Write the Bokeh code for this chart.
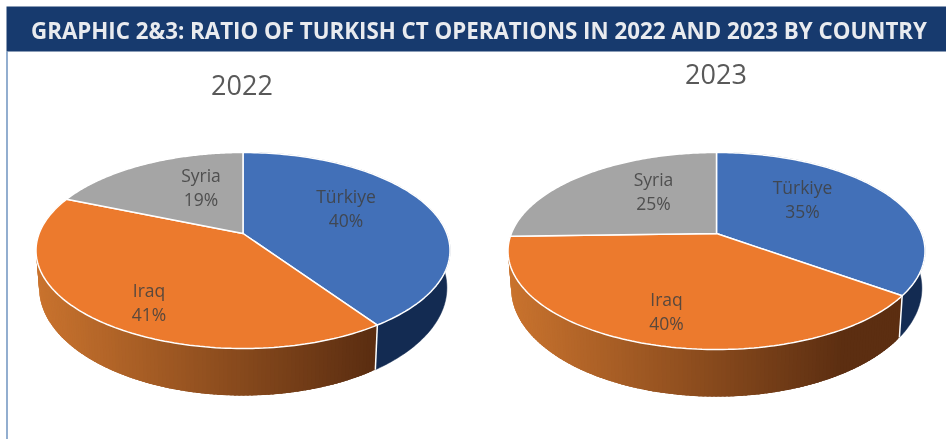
import numpy as np
from bokeh.plotting import figure
from bokeh.embed import file_html
from bokeh.resources import INLINE
from bokeh.core.properties import value

# ---- data ----
title_text = "GRAPHIC 2&3: RATIO OF TURKISH CT OPERATIONS IN 2022 AND 2023 BY COUNTRY"
categories = ["Türkiye", "Iraq", "Syria"]
years = ["2022", "2023"]
values_2022 = [40.45, 40.85, 18.70]
values_2023 = [34.95, 39.60, 25.45]

# ---- styles and layout (page pixels) ----
top_colors = ["#4270B8", "#EC7A2D", "#A5A5A5"]
WHITE = "#FFFFFF"
side_blue = "#132B52"
grad_left = np.array([0xC9, 0x73, 0x2E])
grad_right = np.array([0x5C, 0x2E, 0x11])
layouts = [
    dict(cx=242.5, cy=233.0, up=81.0, down=115.0, half_w=207.0, title_x=241.5, title_y=84,
         labels=[(103, -38), (-94, 56), (-42, -59)]),
    dict(cx=716.0, cy=233.0, up=81.0, down=116.0, half_w=208.5, title_x=715.5, title_y=73.5,
         labels=[(86, -47), (-50, 65), (-63, -55)]),
]
SIDE_SX, SIDE_SY, SIDE_D = 0.985, 1.10, 35.5

p = figure(width=946, height=439, x_range=(0, 946), y_range=(439, 0),
           output_backend="svg", toolbar_location=None, min_border=0,
           x_axis_type=None, y_axis_type=None, outline_line_color=None,
           background_fill_color="white", border_fill_color="white",
           styles={"position": "fixed", "left": "0px", "top": "0px"})
p.grid.visible = False

# header and the thin rule on the left
p.quad(left=[6], right=[946], top=[6], bottom=[51], fill_color="#173A6E", line_color=None)
p.segment(x0=[6.5], y0=[51], x1=[6.5], y1=[439], line_color="#4A78B0", line_width=1.2)
p.text(x=[478.5], y=[29.5], text=[title_text], text_color="#E9EBEF",
       text_font=value("Open Sans"), text_font_style="bold", text_font_size="22.3px",
       text_align="center", text_baseline="middle")


def rim(deg, g):
    """Screen offsets from the apex of a rim point at clockwise angle deg (tilted disc)."""
    k = (g["down"] - g["up"]) / (g["down"] + g["up"])
    B = g["up"] * (1 + k)
    A = g["half_w"] * np.sqrt(1 - k * k)
    t = np.radians(deg)
    u, v = np.sin(t), np.cos(t)
    den = 1 + k * v
    return A * u / den, -B * v / den


def wall(a0, a1, g):
    x0, y0 = rim(a0, g)
    x1, y1 = rim(a1, g)
    cx, cy = g["cx"], g["cy"]
    return ([cx + x0, cx + x1, cx + x1 * SIDE_SX, cx + x0 * SIDE_SX],
            [cy + y0, cy + y1, cy + y1 * SIDE_SY + SIDE_D, cy + y0 * SIDE_SY + SIDE_D])


def pie(vals, g, year):
    vals = np.array(vals, dtype=float)
    edges = np.concatenate([[0.0], np.cumsum(vals) / vals.sum() * 360.0])
    cx, cy = g["cx"], g["cy"]
    left_x, width = cx - g["half_w"], 2 * g["half_w"]

    # first slice's wall: one flat dark polygon
    a = np.linspace(edges[0], edges[1], 200)
    rx, ry = rim(a, g)
    p.patch(np.concatenate([cx + rx, (cx + rx * SIDE_SX)[::-1]]),
            np.concatenate([cy + ry, (cy + ry * SIDE_SY + SIDE_D)[::-1]]),
            fill_color=side_blue, line_color=side_blue, line_width=0.5)

    # second slice's wall: overlapping strips, painted from the seam round to the left,
    # so the shading runs smoothly left to right with no hairlines
    a = np.append(np.arange(edges[1], edges[2], 1.0), edges[2])
    xs_s, ys_s, cols = [], [], []
    for a0, a1 in zip(a[:-1], a[1:]):
        xs, ys = wall(a0, min(a1 + 1.5, edges[2]), g)
        xs_s.append(xs)
        ys_s.append(ys)
        f = np.clip((np.mean(xs[:2]) - left_x) / (0.80 * width), 0, 1)
        c = grad_left + (grad_right - grad_left) * f
        cols.append("#%02X%02X%02X" % tuple(int(round(q)) for q in c))
    p.patches(xs_s, ys_s, fill_color=cols, line_color=None)

    # white seam on the wall between the first two slices
    xe, ye = rim(edges[1], g)
    p.segment([cx + xe], [cy + ye], [cx + xe * SIDE_SX], [cy + ye * SIDE_SY + SIDE_D],
              line_color=WHITE, line_width=1.5)

    # top face
    for i in range(len(vals)):
        a = np.linspace(edges[i], edges[i + 1], 120)
        rx, ry = rim(a, g)
        p.patch(np.concatenate([[cx], cx + rx]), np.concatenate([[cy], cy + ry]),
                fill_color=top_colors[i], line_color=WHITE, line_width=1.5)

    # labels
    for i, (dx, dy) in enumerate(g["labels"]):
        for txt, off in ((categories[i], 0), ("%d%%" % round(vals[i]), 24.5)):
            p.text(x=[cx + dx], y=[cy + dy + off], text=[txt], text_color="#404040",
                   text_alpha=0.85, text_font=value("Open Sans"), text_font_size="17.5px",
                   text_align="center", text_baseline="middle")

    p.text(x=[g["title_x"]], y=[g["title_y"]], text=[year], text_color="#595959",
           text_font=value("Open Sans"), text_font_size="27px",
           text_align="center", text_baseline="middle")


pie(values_2022, layouts[0], years[0])
pie(values_2023, layouts[1], years[1])

open("out.html", "w").write(file_html(p, INLINE))
